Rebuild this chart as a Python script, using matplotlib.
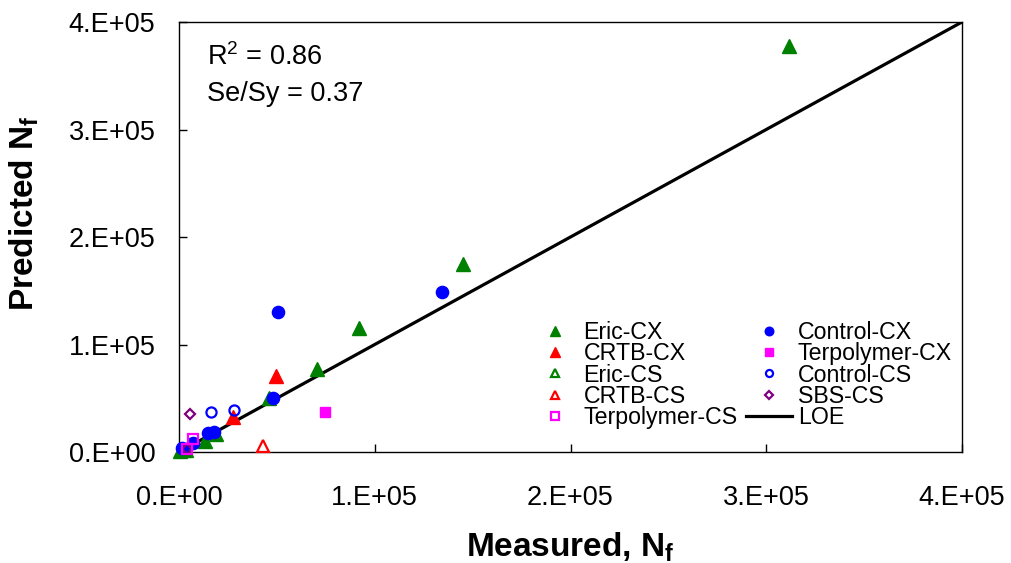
import matplotlib
matplotlib.use("Agg")
import matplotlib.pyplot as plt
from matplotlib.ticker import FixedLocator, FuncFormatter

plt.rcParams["font.family"] = ["Liberation Sans", "DejaVu Sans"]
plt.rcParams["mathtext.fontset"] = "custom"
plt.rcParams["mathtext.rm"] = "Liberation Sans"
plt.rcParams["mathtext.bf"] = "Liberation Sans:bold"
plt.rcParams["mathtext.it"] = "Liberation Sans:italic"

# Measured vs predicted fatigue life (cycles) per binder / mix type
eric_cx_meas = [311700, 144900, 91800, 70250, 46100, 18900, 13300, 500, 3500]
eric_cx_pred = [377700, 174900, 115300, 77200, 50500, 16400, 10500, 500, 1500]

crtb_cx_meas = [49300, 27400]
crtb_cx_pred = [70700, 32300]

eric_cs_meas = [2000]
eric_cs_pred = [1000]

crtb_cs_meas = [43000]
crtb_cs_pred = [5900]

control_cx_meas = [134200, 50660, 48100, 15000, 18000, 7300, 1400]
control_cx_pred = [148800, 130000, 50500, 17400, 18900, 8100, 3400]

terp_cx_meas = [74500]
terp_cx_pred = [37500]

control_cs_meas = [16150, 28000]
control_cs_pred = [37500, 39000]

sbs_cs_meas = [5600, 4200]
sbs_cs_pred = [35000, 2800]

terp_cs_meas = [7000, 4200]
terp_cs_pred = [11800, 2800]

loe = [0, 400000]
axis_ticks = [0, 100000, 200000, 300000, 400000]
tick_labels = ["0.E+00", "1.E+05", "2.E+05", "3.E+05", "4.E+05"]

fig = plt.figure(figsize=(10.11, 5.63), dpi=100)
ax = fig.add_axes([179 / 1011, 1 - 452 / 563, 783 / 1011, 430 / 563])

green, red, blue, magenta, purple = "#008000", "#FF0000", "#0000FF", "#FF00FF", "#800080"

h_line, = ax.plot(loe, loe, color="black", lw=2.3, zorder=2, label="LOE")

def filled(x, y, marker, color, ms, label):
    return ax.plot(x, y, ls="none", marker=marker, ms=ms, mfc=color, mec=color,
                   zorder=3, clip_on=False, label=label)[0]

def hollow(x, y, marker, color, ms, label):
    return ax.plot(x, y, ls="none", marker=marker, ms=ms, mfc="none", mec=color,
                   mew=1.6, zorder=3, clip_on=False, label=label)[0]

h_ecx = filled(eric_cx_meas, eric_cx_pred, "^", green, 10.5, "Eric-CX")
h_ccx_r = filled(crtb_cx_meas, crtb_cx_pred, "^", red, 10.5, "CRTB-CX")
h_ecs = hollow(eric_cs_meas, eric_cs_pred, "^", green, 9.0, "Eric-CS")
h_rcs = hollow(crtb_cs_meas, crtb_cs_pred, "^", red, 9.0, "CRTB-CS")
h_ctx = filled(control_cx_meas, control_cx_pred, "o", blue, 8.8, "Control-CX")
h_tcx = filled(terp_cx_meas, terp_cx_pred, "s", magenta, 7.8, "Terpolymer-CX")
h_ccs = hollow(control_cs_meas, control_cs_pred, "o", blue, 7.3, "Control-CS")
h_sbs = hollow(sbs_cs_meas, sbs_cs_pred, "D", purple, 5.4, "SBS-CS")
h_tcs = hollow(terp_cs_meas, terp_cs_pred, "s", magenta, 7.3, "Terpolymer-CS")

ax.set_xlim(0, 400000)
ax.set_ylim(0, 400000)
for axis in (ax.xaxis, ax.yaxis):
    axis.set_major_locator(FixedLocator(axis_ticks))
    axis.set_major_formatter(FuncFormatter(lambda v, p: tick_labels[axis_ticks.index(int(round(v)))]))

ax.tick_params(axis="both", direction="in", length=6, width=1, labelsize=19.5,
               top=False, right=False)
ax.tick_params(axis="x", pad=24)
ax.tick_params(axis="y", pad=17)
for s in ax.spines.values():
    s.set_linewidth(1.0)

ax.set_xlabel(r"Measured, N$_\mathbf{f}$", fontsize=24, fontweight="bold", va="center")
ax.xaxis.set_label_coords(0.5, -0.222)
ax.set_ylabel(r"Predicted N$_\mathbf{f}$", fontsize=24, fontweight="bold", va="center")
ax.yaxis.set_label_coords(-0.197, 0.556)

ax.text(0.036, 0.9, r"R$^\mathregular{2}$ = 0.86", transform=ax.transAxes, fontsize=19.5,
        ha="left", va="baseline")
ax.text(0.036, 0.817, "Se/Sy = 0.37", transform=ax.transAxes, fontsize=19.5,
        ha="left", va="baseline")

handles = [h_ecx, h_ccx_r, h_ecs, h_rcs, h_tcs, h_ctx, h_tcx, h_ccs, h_sbs, h_line]
ax.legend(handles=handles, ncol=2, loc="upper left", bbox_to_anchor=(0.45, 0.305),
          frameon=False, fontsize=16.7, markerscale=0.7, handlelength=2.0,
          handletextpad=0.25, columnspacing=0.35, labelspacing=-0.07,
          borderpad=0, borderaxespad=0)

fig.savefig("out.png", dpi=100)
